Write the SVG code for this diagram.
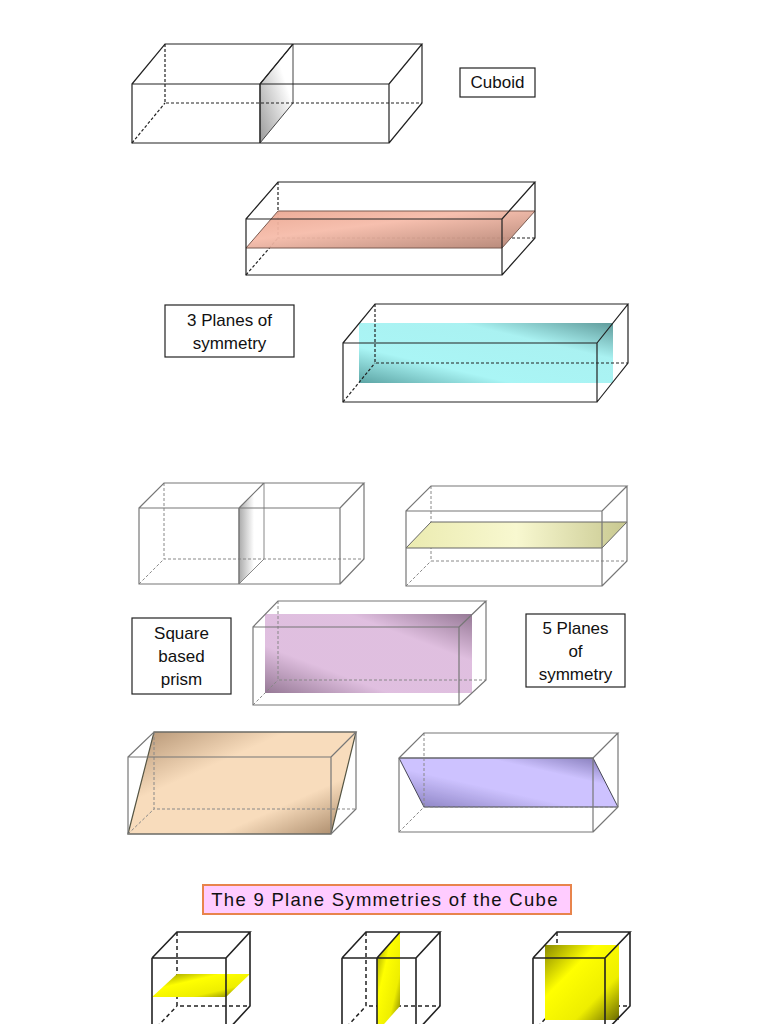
<svg xmlns="http://www.w3.org/2000/svg" width="768" height="1024" viewBox="0 0 768 1024">
<defs>
<linearGradient id="gGrey" x1="0" y1="1" x2="1" y2="0"><stop offset="0" stop-color="#999"/><stop offset="0.7" stop-color="#fff"/></linearGradient>
<linearGradient id="gSal" x1="0" y1="0" x2="1" y2="1"><stop offset="0" stop-color="#eaa690"/><stop offset="0.4" stop-color="#f6bcaa"/><stop offset="1" stop-color="#b08070"/></linearGradient>
<linearGradient id="gCyan" x1="0" y1="1" x2="1" y2="0"><stop offset="0" stop-color="#4a9a9a"/><stop offset="0.3" stop-color="#a0f4f4"/><stop offset="0.7" stop-color="#a0f0f0"/><stop offset="1" stop-color="#4e9090"/></linearGradient>
<linearGradient id="gGrey2" x1="0" y1="0" x2="1" y2="0"><stop offset="0" stop-color="#aaa"/><stop offset="0.6" stop-color="#fff"/></linearGradient>
<linearGradient id="gYel" x1="0" y1="0" x2="1" y2="0"><stop offset="0" stop-color="#ebebb0"/><stop offset="0.5" stop-color="#f8f8d0"/><stop offset="1" stop-color="#c8c890"/></linearGradient>
<linearGradient id="gPur" x1="0" y1="1" x2="1" y2="0"><stop offset="0" stop-color="#8a6a8a"/><stop offset="0.3" stop-color="#dcb8dc"/><stop offset="0.7" stop-color="#dcb8dc"/><stop offset="1" stop-color="#8a6a8a"/></linearGradient>
<linearGradient id="gTan" x1="0" y1="0" x2="1" y2="1"><stop offset="0" stop-color="#b09070"/><stop offset="0.35" stop-color="#f8dcbc"/><stop offset="0.7" stop-color="#f8dcbc"/><stop offset="1" stop-color="#a08060"/></linearGradient>
<linearGradient id="gLav" x1="0" y1="1" x2="1" y2="0"><stop offset="0" stop-color="#7a70b8"/><stop offset="0.4" stop-color="#c8bcff"/><stop offset="0.7" stop-color="#c8bcff"/><stop offset="1" stop-color="#6e64a8"/></linearGradient>
<linearGradient id="gYc" x1="0" y1="0" x2="1" y2="1"><stop offset="0" stop-color="#8a8a00"/><stop offset="0.35" stop-color="#ffff00"/><stop offset="0.7" stop-color="#eeee00"/><stop offset="1" stop-color="#6a6a00"/></linearGradient>
</defs>
<style>
.e{fill:none;stroke:#222;stroke-width:1.2}
.l{fill:none;stroke:#777;stroke-width:1.2}
.d{fill:none;stroke:#222;stroke-width:1.2;stroke-dasharray:3,2}
.dl{fill:none;stroke:#888;stroke-width:1;stroke-dasharray:3,2}
.c{fill:none;stroke:#222;stroke-width:1.6}
.cd{fill:none;stroke:#222;stroke-width:1.5;stroke-dasharray:4,3}
.box{fill:#fff;stroke:#222;stroke-width:1.2}
.t{font-family:"Liberation Sans",Arial,sans-serif;font-size:17px;fill:#111;text-anchor:middle}
</style>

<g id="cuboid1">
<polygon points="260,84 293,44 293,103 260,143" fill="url(#gGrey)" stroke="#444" stroke-width="1"/>
<path class="d" d="M165,44V103H422M132,143L165,103"/>
<path class="e" d="M132,84H389V143H132ZM132,84L165,44H422L389,84M422,44V103L389,143M260,84V143M260,84L293,44"/>
</g>
<g id="label-cuboid"><rect class="box" x="460" y="68" width="75" height="29"/><text class="t" x="497.5" y="88">Cuboid</text></g>

<g id="cuboid2">
<path class="d" d="M278,182V238H535M246,275L278,238"/>
<polygon points="246,248 502,248 535,211 278,211" fill="url(#gSal)" fill-opacity="0.95" stroke="#7a5a50" stroke-width="1"/>
<path class="e" d="M246,219H502V275H246ZM246,219L278,182H535L502,219M535,182V238L502,275"/>
</g>

<g id="label-3planes"><rect class="box" x="165" y="305" width="129" height="52"/><text class="t" x="229.5" y="326">3 Planes of</text><text class="t" x="229.5" y="349">symmetry</text></g>

<g id="cuboid3">
<polygon points="359,323 613,323 613,383 359,383" fill="url(#gCyan)" opacity="0.9"/>
<path class="d" d="M375,304V363H628M343,402L375,363"/>
<path class="e" d="M343,343H597V402H343ZM343,343L375,304H628L597,343M628,304V363L597,402"/>
</g>

<g id="prism1">
<polygon points="239,508 264,483 264,559 239,584" fill="url(#gGrey2)" stroke="#888" stroke-width="1"/>
<path class="dl" d="M164,483V559H364M139,584L164,559"/>
<path class="l" d="M139,508H340V584H139ZM139,508L164,483H364L340,508M364,483V559L340,584M239,508V584M239,508L264,483"/>
</g>

<g id="prism2">
<path class="dl" d="M431,486V561H627M406,586L431,561"/>
<polygon points="406,548 602,548 627,522 431,522" fill="url(#gYel)" stroke="#666" stroke-width="1"/>
<path class="l" d="M406,511H602V586H406ZM406,511L431,486H627L602,511M627,486V561L602,586"/>
</g>

<g id="prism3">
<polygon points="265,614 472,614 472,693 265,693" fill="url(#gPur)" opacity="0.9"/>
<path class="dl" d="M278,601V680H486M253,705L278,680"/>
<path class="l" d="M253,627H459V705H253ZM253,627L278,601H486L459,627M486,601V680L459,705"/>
</g>

<g id="label-square"><rect class="box" x="132" y="618" width="99" height="76"/><text class="t" x="181.5" y="639">Square</text><text class="t" x="181.5" y="662">based</text><text class="t" x="181.5" y="685">prism</text></g>
<g id="label-5planes"><rect class="box" x="526" y="614" width="99" height="73"/><text class="t" x="575.5" y="634">5 Planes</text><text class="t" x="575.5" y="657">of</text><text class="t" x="575.5" y="680">symmetry</text></g>

<g id="prism4">
<polygon points="154,732 356,732 331,834 128,834" fill="url(#gTan)" stroke="#554" stroke-width="1.2"/>
<path class="dl" d="M154,732V809H356M128,834L154,809" stroke="#222"/>
<path class="l" d="M128,757H331V834H128ZM128,757L154,732H356L331,757M356,732V809L331,834"/>
</g>

<g id="prism5">
<polygon points="399,758 593,758 618,807 424,807" fill="url(#gLav)" opacity="0.9" stroke="#334" stroke-width="1"/>
<path class="dl" d="M424,733V807H618M399,832L424,807"/>
<path class="l" d="M399,758H593V832H399ZM399,758L424,733H618L593,758M618,733V807L593,832"/>
</g>

<g id="title"><rect x="203" y="885" width="368" height="29" fill="#ffccff" stroke="#e8844c" stroke-width="2"/><text x="385" y="906" font-family="'Liberation Sans',Arial,sans-serif" font-size="18.5" letter-spacing="1.3" text-anchor="middle" fill="#111">The 9 Plane Symmetries of the Cube</text></g>

<g id="cube1">
<path class="cd" d="M177,932V1006H250M152,1032L177,1006"/>
<polygon points="152,997 226,997 250,974 177,974" fill="url(#gYc)"/>
<path class="c" d="M152,958H226V1032M152,958V1032M152,958L177,932H250L226,958M250,932V1006L226,1032"/>
</g>
<g id="cube2">
<path class="cd" d="M366,932V1006H440M342,1032L366,1006"/>
<polygon points="377,958 400,932 400,1006 377,1032" fill="url(#gYc)"/>
<path class="c" d="M342,958H416V1032M342,958V1032M342,958L366,932H440L416,958M440,932V1006L416,1032M377,958V1032M377,958L400,932"/>
</g>
<g id="cube3">
<path class="cd" d="M557,932V1006H630M533,1032L557,1006"/>
<rect x="545" y="945" width="74" height="75" fill="url(#gYc)"/>
<path class="c" d="M533,958H605V1032M533,958V1032M533,958L557,932H630L605,958M630,932V1006L605,1032"/>
</g>
</svg>
